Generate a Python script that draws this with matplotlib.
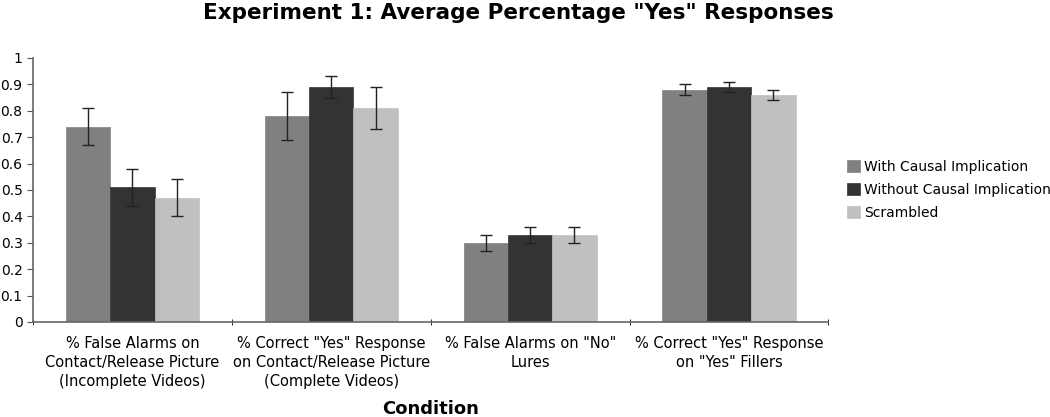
import numpy as np
import matplotlib
matplotlib.use("Agg")
import matplotlib.pyplot as plt

# data
categories = [
    '% False Alarms on\nContact/Release Picture\n(Incomplete Videos)',
    '% Correct "Yes" Response\non Contact/Release Picture\n(Complete Videos)',
    '% False Alarms on "No"\nLures',
    '% Correct "Yes" Response\non "Yes" Fillers',
]
series_names = ['With Causal Implication', 'Without Causal Implication', 'Scrambled']
with_causal = [0.74, 0.78, 0.30, 0.88]
without_causal = [0.51, 0.89, 0.33, 0.89]
scrambled = [0.47, 0.81, 0.33, 0.86]
err_with = [0.07, 0.09, 0.03, 0.02]
err_without = [0.07, 0.04, 0.03, 0.02]
err_scrambled = [0.07, 0.08, 0.03, 0.02]
yticks = [0, 0.1, 0.2, 0.3, 0.4, 0.5, 0.6, 0.7, 0.8, 0.9, 1]

colors = ['#808080', '#333333', '#c0c0c0']
values = [with_causal, without_causal, scrambled]
errors = [err_with, err_without, err_scrambled]

fig = plt.figure(figsize=(10.5, 4.17), dpi=100)
ax = fig.add_axes([0.0314, 0.228, 0.7576, 0.633])

x = np.arange(len(categories))
w = 0.223
for i in range(3):
    ax.bar(x + (i - 1) * w, values[i], w, color=colors[i], label=series_names[i],
           edgecolor=colors[i], linewidth=0.5,
           yerr=errors[i], capsize=4, error_kw=dict(ecolor='#222222', elinewidth=1, capthick=1))

ax.set_xlim(-0.5, len(categories) - 0.5)
ax.set_ylim(0, 1)
ax.set_yticks(yticks)
ax.set_yticklabels([('%g' % t) for t in yticks], fontsize=10, family=['DejaVu Sans'])
ax.set_xticks(x)
ax.set_xticklabels(categories, fontsize=10.5, family=['Liberation Sans Narrow', 'DejaVu Sans'],
                   linespacing=1.35)
ax.tick_params(axis='x', length=0, pad=10)
ax.set_xticks(np.arange(len(categories) + 1) - 0.5, minor=True)
ax.tick_params(axis='x', which='minor', length=4, direction='inout')
ax.tick_params(axis='y', length=4, direction='out', color='#555555')

for s in ['top', 'right']:
    ax.spines[s].set_visible(False)
for s in ['left', 'bottom']:
    ax.spines[s].set_color('#666666')
    ax.spines[s].set_linewidth(1.2)

fig.text(0.494, 0.97, 'Experiment 1: Average Percentage "Yes" Responses', ha='center', va='center',
         fontsize=15.5, fontweight='bold', family=['DejaVu Sans'])
fig.text(0.41, 0.02, 'Condition', ha='center', va='center', fontsize=13, fontweight='bold',
         family=['Liberation Sans Narrow', 'DejaVu Sans'])

fig.legend(loc='center left', bbox_to_anchor=(0.795, 0.545), frameon=False, fontsize=10,
           handlelength=0.9, handleheight=0.9, handletextpad=0.3, labelspacing=0.65)

fig.savefig('out.png', dpi=100)
